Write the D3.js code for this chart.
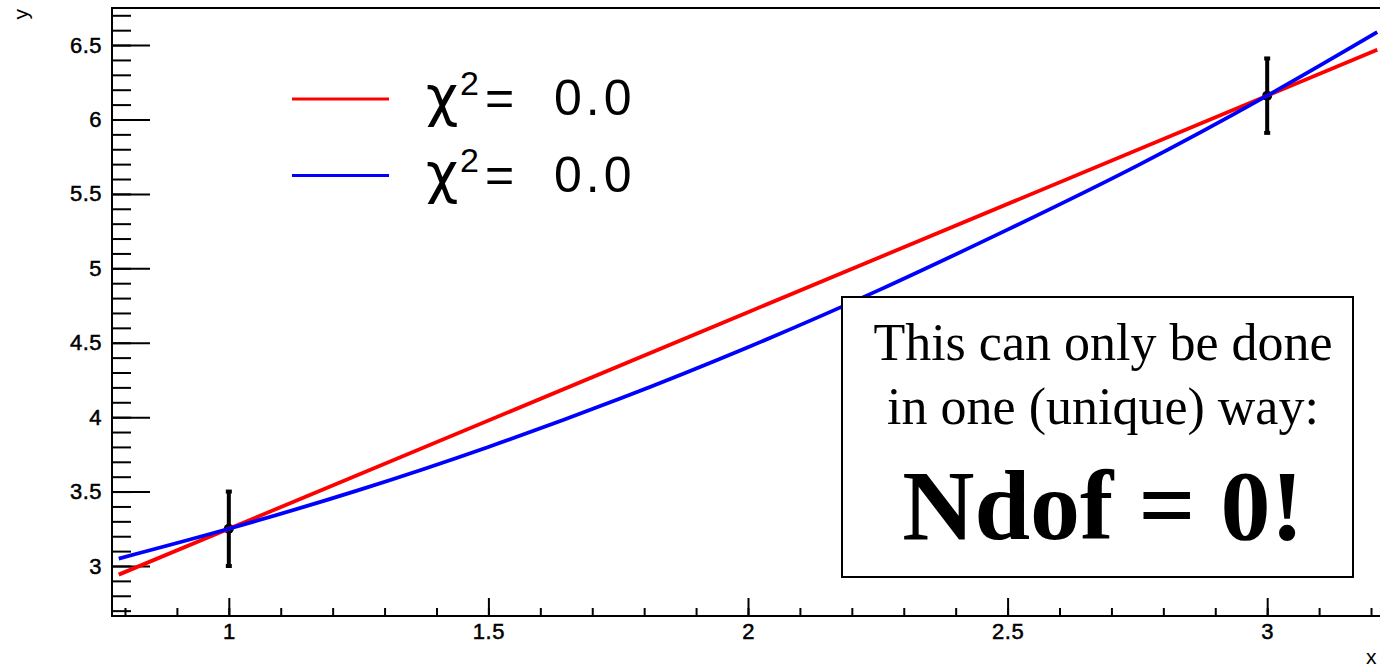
<!DOCTYPE html>
<html>
<head>
<meta charset="utf-8">
<script src="https://cdn.jsdelivr.net/npm/d3@7"></script>
<style>
  body { margin: 0; background: white; }
  svg { display: block; }
  .tick text { font-family: "Liberation Sans", Arial, sans-serif; font-size: 22px; }
</style>
</head>
<body>
<svg id="chart"></svg>
<script>
// measured points (with errors)
var pointX = [1, 3];
var pointY = [3.25, 6.16];
var pointErr = [0.25, 0.25];

// straight line fit (red)
var redX = [0.788, 1, 2, 3, 3.212];
var redY = [2.942, 3.25, 4.705, 6.16, 6.468];

// curved fit (blue)
var blueX = [0.788, 1, 1.25, 1.5, 1.75, 2, 2.25, 2.5, 2.75, 3, 3.212];
var blueY = [3.05, 3.25, 3.51, 3.80, 4.12, 4.47, 4.85, 5.26, 5.69, 6.16, 6.587];

// tick labels
var xMajor = [1, 1.5, 2, 2.5, 3];
var yMajor = [3, 3.5, 4, 4.5, 5, 5.5, 6, 6.5];
var xMinor = d3.range(8, 33).map(d => d / 10);
var yMinor = d3.range(27, 68).map(d => d / 10);

var legendLabels = ["0.0", "0.0"];
var legendColors = ["#ff0000", "#0000ff"];
var boxLines = ["This can only be done", "in one (unique) way:"];
var boxBold = "Ndof = 0!";

var dimensions = {
    width: 1380,
    height: 667,
    margin: { top: 8, bottom: 51, left: 112, right: -4 }
};

var svg = d3.select("#chart")
    .attr("width", dimensions.width)
    .attr("height", dimensions.height);

var xScale = d3.scaleLinear()
    .domain([0.775, 3.225])
    .range([dimensions.margin.left, dimensions.width - dimensions.margin.right]);

var yScale = d3.scaleLinear()
    .domain([2.664, 6.749])
    .range([dimensions.height - dimensions.margin.bottom, dimensions.margin.top]);

var bottom = dimensions.height - dimensions.margin.bottom;
var left = dimensions.margin.left;

// x axis: minor then major ticks (ticks point inward)
svg.append("g")
    .attr("transform", `translate(0, ${bottom})`)
    .call(d3.axisBottom(xScale).tickValues(xMinor).tickSize(-8).tickFormat(""))
    .call(g => g.select(".domain").remove())
    .selectAll("line").attr("stroke", "black").attr("stroke-width", 2);

svg.append("g")
    .attr("transform", `translate(0, ${bottom})`)
    .call(d3.axisBottom(xScale).tickValues(xMajor).tickSize(-18).tickPadding(7).tickFormat(d3.format("")))
    .call(g => g.select(".domain").remove())
    .call(g => g.selectAll("line").attr("stroke", "black").attr("stroke-width", 2))
    .call(g => g.selectAll("text").attr("letter-spacing", 0.5).attr("fill", "black")
        .attr("stroke", "black").attr("stroke-width", 0.5));

// y axis
svg.append("g")
    .attr("transform", `translate(${left}, 0)`)
    .call(d3.axisLeft(yScale).tickValues(yMinor).tickSize(-19).tickFormat(""))
    .call(g => g.select(".domain").remove())
    .selectAll("line").attr("stroke", "black").attr("stroke-width", 2);

svg.append("g")
    .attr("transform", `translate(${left}, 0)`)
    .call(d3.axisLeft(yScale).tickValues(yMajor).tickSize(-38).tickPadding(10).tickFormat(d3.format("")))
    .call(g => g.select(".domain").remove())
    .call(g => g.selectAll("line").attr("stroke", "black").attr("stroke-width", 2))
    .call(g => g.selectAll("text").attr("letter-spacing", 0.5).attr("fill", "black")
        .attr("stroke", "black").attr("stroke-width", 0.5));

// frame
svg.append("rect")
    .attr("x", left)
    .attr("y", dimensions.margin.top)
    .attr("width", xScale.range()[1] - left)
    .attr("height", bottom - dimensions.margin.top)
    .attr("fill", "none")
    .attr("stroke", "black")
    .attr("stroke-width", 2);

// axis titles
svg.append("text")
    .attr("transform", "translate(28, 9) rotate(-90)")
    .attr("text-anchor", "end")
    .attr("font-family", "Liberation Sans, Arial, sans-serif")
    .attr("font-size", 21)
    .text("y");

svg.append("text")
    .attr("x", 1366)
    .attr("y", 664)
    .attr("font-family", "Liberation Sans, Arial, sans-serif")
    .attr("font-size", 21)
    .text("x");

// data points with error bars
var points = pointX.map((x, i) => ({ x: x, y: pointY[i], e: pointErr[i] }));

svg.selectAll(".errbar")
    .data(points)
    .enter()
    .append("line")
    .attr("class", "errbar")
    .attr("x1", d => xScale(d.x))
    .attr("x2", d => xScale(d.x))
    .attr("y1", d => yScale(d.y - d.e))
    .attr("y2", d => yScale(d.y + d.e))
    .attr("stroke", "black")
    .attr("stroke-width", 4);

[-1, 1].forEach(function(s) {
    svg.selectAll(".cap" + s)
        .data(points)
        .enter()
        .append("rect")
        .attr("x", d => xScale(d.x) - 3)
        .attr("y", d => yScale(d.y + s * d.e) - 2)
        .attr("width", 6)
        .attr("height", 4)
        .attr("fill", "black");
});

svg.selectAll(".marker")
    .data(points)
    .enter()
    .append("circle")
    .attr("cx", d => xScale(d.x))
    .attr("cy", d => yScale(d.y))
    .attr("r", 5)
    .attr("fill", "black");

// fit curves
var line = d3.line()
    .x(d => xScale(d[0]))
    .y(d => yScale(d[1]))
    .curve(d3.curveNatural);

svg.append("path")
    .datum(redX.map((x, i) => [x, redY[i]]))
    .attr("d", line)
    .attr("fill", "none")
    .attr("stroke", legendColors[0])
    .attr("stroke-width", 3.8);

svg.append("path")
    .datum(blueX.map((x, i) => [x, blueY[i]]))
    .attr("d", line)
    .attr("fill", "none")
    .attr("stroke", legendColors[1])
    .attr("stroke-width", 3.8);

// legend
var legend = svg.selectAll(".legend")
    .data(legendLabels)
    .enter()
    .append("g")
    .attr("class", "legend")
    .attr("transform", (d, i) => `translate(0, ${99 + i * 76.5})`);

legend.append("line")
    .attr("x1", 292)
    .attr("x2", 389)
    .attr("y1", 0)
    .attr("y2", 0)
    .attr("stroke", (d, i) => legendColors[i])
    .attr("stroke-width", 3);

var legendText = legend.append("text")
    .attr("y", 16)
    .attr("font-family", "Liberation Sans, Arial, sans-serif")
    .attr("font-size", 50);

legendText.append("tspan").attr("x", 426)
    .attr("font-family", "DejaVu Sans, sans-serif").attr("font-size", 56).text("\u03c7");
legendText.append("tspan").attr("x", 460).attr("dy", -20).attr("font-size", 34).text("2");
legendText.append("tspan").attr("x", 485).attr("dy", 20).text("=");
legendText.append("tspan").attr("x", 554).attr("letter-spacing", 4).text(d => d);

// text box
svg.append("rect")
    .attr("x", 842)
    .attr("y", 297)
    .attr("width", 511)
    .attr("height", 280)
    .attr("fill", "white")
    .attr("stroke", "black")
    .attr("stroke-width", 2);

svg.selectAll(".boxline")
    .data(boxLines)
    .enter()
    .append("text")
    .attr("class", "boxline")
    .attr("x", 1103)
    .attr("y", (d, i) => 360 + i * 64)
    .attr("text-anchor", "middle")
    .attr("font-family", "Liberation Serif, Times New Roman, serif")
    .attr("font-size", 52)
    .text(d => d);

svg.append("text")
    .attr("x", 1103)
    .attr("y", 539)
    .attr("text-anchor", "middle")
    .attr("font-family", "Liberation Serif, Times New Roman, serif")
    .attr("font-weight", "bold")
    .attr("font-size", 100)
    .text(boxBold);
</script>
</body>
</html>
